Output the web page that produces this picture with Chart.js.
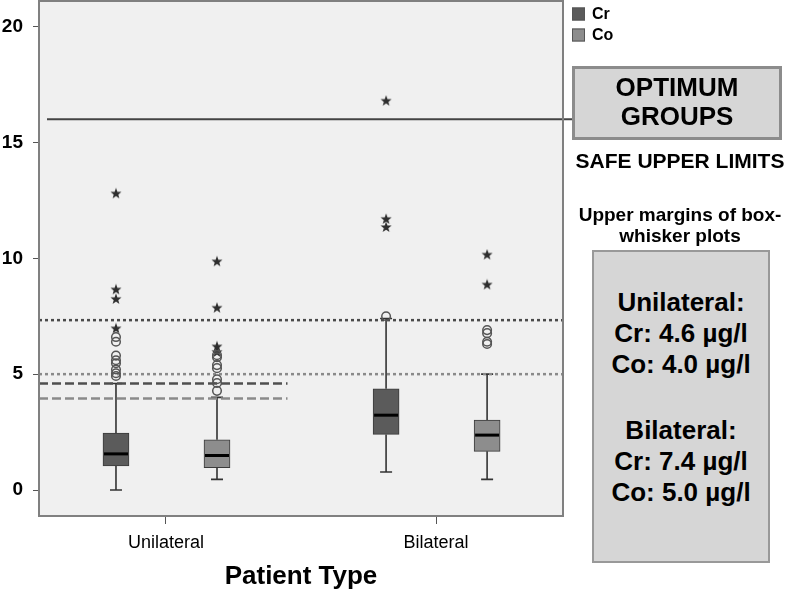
<!DOCTYPE html>
<html>
<head>
<meta charset="utf-8">
<script src="https://cdn.jsdelivr.net/npm/chart.js@4.4.1/dist/chart.umd.min.js"></script>
<style>
  body { margin: 0; background: #fff; }
  #wrap { position: relative; width: 793px; height: 594px; font-family: "Liberation Sans", Arial, sans-serif; }
  #chart { display: block; }
  .note { position: absolute; text-align: center; font-weight: bold; color: #000; white-space: nowrap; }
  .panel { position: absolute; background: #d6d6d6; box-sizing: border-box; }
</style>
</head>
<body>
<div id="wrap">
  <canvas id="chart" width="793" height="594"></canvas>

  <div class="panel" style="left:572px; top:66px; width:210px; height:74px; border:3px solid #8c8c8c;"></div>
  <div class="note" style="left:572px; width:210px; top:72px; font-size:26px; line-height:30px;">OPTIMUM</div>
  <div class="note" style="left:572px; width:210px; top:101px; font-size:26px; line-height:30px;">GROUPS</div>
  <div class="note" style="left:570px; width:220px; top:148px; font-size:21px; line-height:25px;">SAFE UPPER LIMITS</div>
  <div class="note" style="left:570px; width:220px; top:204px; font-size:19px; line-height:22px;">Upper margins of box-</div>
  <div class="note" style="left:570px; width:220px; top:225px; font-size:19px; line-height:22px;">whisker plots</div>

  <div class="panel" style="left:592px; top:250px; width:178px; height:313px; border:2px solid #999;"></div>
  <div class="note" style="left:592px; width:178px; top:287px; font-size:26px; line-height:30px;">Unilateral:</div>
  <div class="note" style="left:592px; width:178px; top:318px; font-size:26px; line-height:30px;">Cr: 4.6 µg/l</div>
  <div class="note" style="left:592px; width:178px; top:349px; font-size:26px; line-height:30px;">Co: 4.0 µg/l</div>
  <div class="note" style="left:592px; width:178px; top:415px; font-size:26px; line-height:30px;">Bilateral:</div>
  <div class="note" style="left:592px; width:178px; top:446px; font-size:26px; line-height:30px;">Cr: 7.4 µg/l</div>
  <div class="note" style="left:592px; width:178px; top:477px; font-size:26px; line-height:30px;">Co: 5.0 µg/l</div>
</div>

<script>
// categories and tick labels
const categories = ["Unilateral", "Bilateral"];
const yTicks = [0, 5, 10, 15, 20];

// box-whisker stats per category (Cr)
const crLow = [0, 0.78];
const crQ1 = [1.04, 2.4];
const crMedian = [1.56, 3.23];
const crQ3 = [2.46, 4.37];
const crHigh = [4.6, 7.4];

// box-whisker stats per category (Co)
const coLow = [0.46, 0.46];
const coQ1 = [0.96, 1.67];
const coMedian = [1.49, 2.37];
const coQ3 = [2.17, 3.02];
const coHigh = [4.0, 5.0];

// outliers (circles) and extremes (stars)
const crCircles = [[6.6, 6.4, 5.8, 5.6, 5.47, 5.2, 5.04, 4.92], [7.5]];
const crStars = [[12.8, 8.66, 8.25, 6.98], [16.8, 11.7, 11.35]];
const coCircles = [[5.82, 5.73, 5.39, 5.26, 4.78, 4.62, 4.28], [6.9, 6.77, 6.4, 6.3]];
const coStars = [[9.87, 7.87, 6.2, 5.96], [10.16, 8.87]];

// reference lines
const optimumLine = 16;
const uniLimits = [4.6, 3.95];
const biLimits = [7.33, 5.0];

const crColor = "#5b5b5b";
const coColor = "#8d8d8d";
const crShift = -0.185;
const coShift = 0.189;

function boxData(q1, q3, shift) {
  return categories.map((c, i) => ({ x: i + 1 + shift, y: [q1[i], q3[i]] }));
}

function pointData(lists, shift) {
  const out = [];
  lists.forEach((vals, i) => {
    vals.forEach((v) => out.push({ x: i + 1 + shift, y: v }));
  });
  return out;
}

// small solid five-point star for extreme values
const star = document.createElement("canvas");
star.width = 12;
star.height = 12;
(function () {
  const g = star.getContext("2d");
  g.fillStyle = "#2e2e2e";
  g.beginPath();
  for (let k = 0; k < 10; k++) {
    const r = k % 2 === 0 ? 5.8 : 2.4;
    const a = -Math.PI / 2 + (k * Math.PI) / 5;
    g.lineTo(6 + r * Math.cos(a), 6.4 + r * Math.sin(a));
  }
  g.closePath();
  g.fill();
})();

const boxPlugin = {
  id: "boxPlugin",
  beforeDraw(chart) {
    const { ctx, chartArea: a } = chart;
    ctx.save();
    ctx.fillStyle = "#f0f0f0";
    ctx.fillRect(a.left, a.top, a.right - a.left, a.bottom - a.top);
    ctx.restore();
  },
  beforeDatasetsDraw(chart) {
    const { ctx, chartArea: a } = chart;
    const x = chart.scales.x;
    const y = chart.scales.y;

    // whiskers
    const groups = [
      [crLow, crQ1, crQ3, crHigh, crShift],
      [coLow, coQ1, coQ3, coHigh, coShift],
    ];
    ctx.save();
    ctx.strokeStyle = "#333";
    ctx.lineWidth = 1.6;
    groups.forEach(([lo, q1, q3, hi, shift]) => {
      categories.forEach((c, i) => {
        const px = x.getPixelForValue(i + 1 + shift);
        ctx.beginPath();
        ctx.moveTo(px, y.getPixelForValue(lo[i]));
        ctx.lineTo(px, y.getPixelForValue(q1[i]));
        ctx.moveTo(px, y.getPixelForValue(q3[i]));
        ctx.lineTo(px, y.getPixelForValue(hi[i]));
        ctx.moveTo(px - 6, y.getPixelForValue(lo[i]));
        ctx.lineTo(px + 6, y.getPixelForValue(lo[i]));
        ctx.moveTo(px - 6, y.getPixelForValue(hi[i]));
        ctx.lineTo(px + 6, y.getPixelForValue(hi[i]));
        ctx.stroke();
      });
    });
    ctx.restore();

    // limit lines
    const split = x.getPixelForValue(1.45);
    const line = (v, color, dash, x1, x2, w) => {
      const py = y.getPixelForValue(v);
      ctx.save();
      ctx.strokeStyle = color;
      ctx.lineWidth = w;
      ctx.setLineDash(dash);
      ctx.beginPath();
      ctx.moveTo(x1, py);
      ctx.lineTo(x2, py);
      ctx.stroke();
      ctx.restore();
    };
    line(biLimits[0], "#4a4a4a", [3, 3], a.left, a.right, 2.5);
    line(biLimits[1], "#8a8a8a", [3, 3], a.left, a.right, 2.5);
    line(uniLimits[0], "#4f4f4f", [9, 4], a.left, split, 2.5);
    line(uniLimits[1], "#8a8a8a", [9, 4], a.left, split, 2.5);
    line(optimumLine, "#444", [], a.left + 8, 574, 2);
  },
  afterDatasetsDraw(chart) {
    const { ctx } = chart;
    const x = chart.scales.x;
    const y = chart.scales.y;
    ctx.save();
    ctx.strokeStyle = "#000";
    ctx.lineWidth = 3;
    [[crMedian, crShift], [coMedian, coShift]].forEach(([med, shift]) => {
      categories.forEach((c, i) => {
        const px = x.getPixelForValue(i + 1 + shift);
        const py = y.getPixelForValue(med[i]);
        ctx.beginPath();
        ctx.moveTo(px - 12, py);
        ctx.lineTo(px + 12, py);
        ctx.stroke();
      });
    });
    ctx.restore();
  },
  afterDraw(chart) {
    const { ctx, chartArea: a } = chart;
    ctx.save();
    ctx.strokeStyle = "#808080";
    ctx.lineWidth = 2;
    ctx.strokeRect(a.left, a.top, a.right - a.left, a.bottom - a.top);

    // legend
    const items = [["Cr", crColor, 14], ["Co", coColor, 35]];
    ctx.font = "bold 16px 'Liberation Sans', Arial, sans-serif";
    ctx.textBaseline = "middle";
    items.forEach(([label, color, cy]) => {
      ctx.fillStyle = color;
      ctx.fillRect(572, cy - 6.5, 13, 13);
      ctx.strokeStyle = "#555";
      ctx.lineWidth = 1;
      ctx.strokeRect(572.5, cy - 6, 12, 12);
      ctx.fillStyle = "#000";
      ctx.fillText(label, 592, cy + 1);
    });
    ctx.restore();
  },
};

function noPad(scale) {
  scale.paddingTop = 0;
  scale.paddingBottom = 0;
  scale.paddingLeft = 0;
  scale.paddingRight = 0;
}

new Chart(document.getElementById("chart"), {
  type: "scatter",
  data: {
    datasets: [
      {
        type: "bar",
        label: "Cr",
        data: boxData(crQ1, crQ3, crShift),
        backgroundColor: crColor,
        borderColor: "#3a3a3a",
        borderWidth: 1,
        borderSkipped: false,
        barThickness: 26,
        grouped: false,
      },
      {
        type: "bar",
        label: "Co",
        data: boxData(coQ1, coQ3, coShift),
        backgroundColor: coColor,
        borderColor: "#3a3a3a",
        borderWidth: 1,
        borderSkipped: false,
        barThickness: 26,
        grouped: false,
      },
      {
        label: "Cr outliers",
        data: pointData(crCircles, crShift),
        pointStyle: "circle",
        radius: 4.3,
        borderColor: "#555",
        borderWidth: 1.5,
        backgroundColor: "rgba(0,0,0,0)",
      },
      {
        label: "Co outliers",
        data: pointData(coCircles, coShift),
        pointStyle: "circle",
        radius: 4.3,
        borderColor: "#555",
        borderWidth: 1.5,
        backgroundColor: "rgba(0,0,0,0)",
      },
      {
        label: "Cr extremes",
        data: pointData(crStars, crShift),
        pointStyle: star,
      },
      {
        label: "Co extremes",
        data: pointData(coStars, coShift),
        pointStyle: star,
      },
    ],
  },
  options: {
    responsive: false,
    animation: false,
    layout: {
      autoPadding: false,
      padding: { left: 0, top: 1, right: 230, bottom: 0 },
    },
    plugins: {
      legend: { display: false },
      tooltip: { enabled: false },
    },
    scales: {
      x: {
        type: "linear",
        min: 0.53,
        max: 2.47,
        offset: false,
        afterBuildTicks: (scale) => {
          scale.ticks = categories.map((c, i) => ({ value: i + 1 }));
        },
        afterFit: (scale) => {
          scale.height = 78;
          noPad(scale);
        },
        grid: {
          offset: false,
          drawOnChartArea: false,
          drawTicks: true,
          tickLength: 8,
          color: "#555",
        },
        border: { display: false },
        ticks: {
          callback: (v) => categories[v - 1],
          color: "#000",
          padding: 8,
          font: { family: "'Liberation Sans', Arial, sans-serif", size: 18 },
        },
        title: {
          display: true,
          text: "Patient Type",
          color: "#000",
          padding: { top: 0, bottom: 2 },
          font: { family: "'Liberation Sans', Arial, sans-serif", size: 26, weight: "bold" },
        },
      },
      y: {
        min: -1.12,
        max: 21.1,
        afterBuildTicks: (scale) => {
          scale.ticks = yTicks.map((v) => ({ value: v }));
        },
        afterFit: (scale) => {
          scale.width = 39;
          noPad(scale);
        },
        grid: {
          drawOnChartArea: false,
          drawTicks: true,
          tickLength: 6,
          color: "#555",
        },
        border: { display: false },
        ticks: {
          color: "#000",
          padding: 10,
          font: { family: "'Liberation Sans', Arial, sans-serif", size: 19, weight: "bold" },
        },
      },
    },
  },
  plugins: [boxPlugin],
});
</script>
</body>
</html>
